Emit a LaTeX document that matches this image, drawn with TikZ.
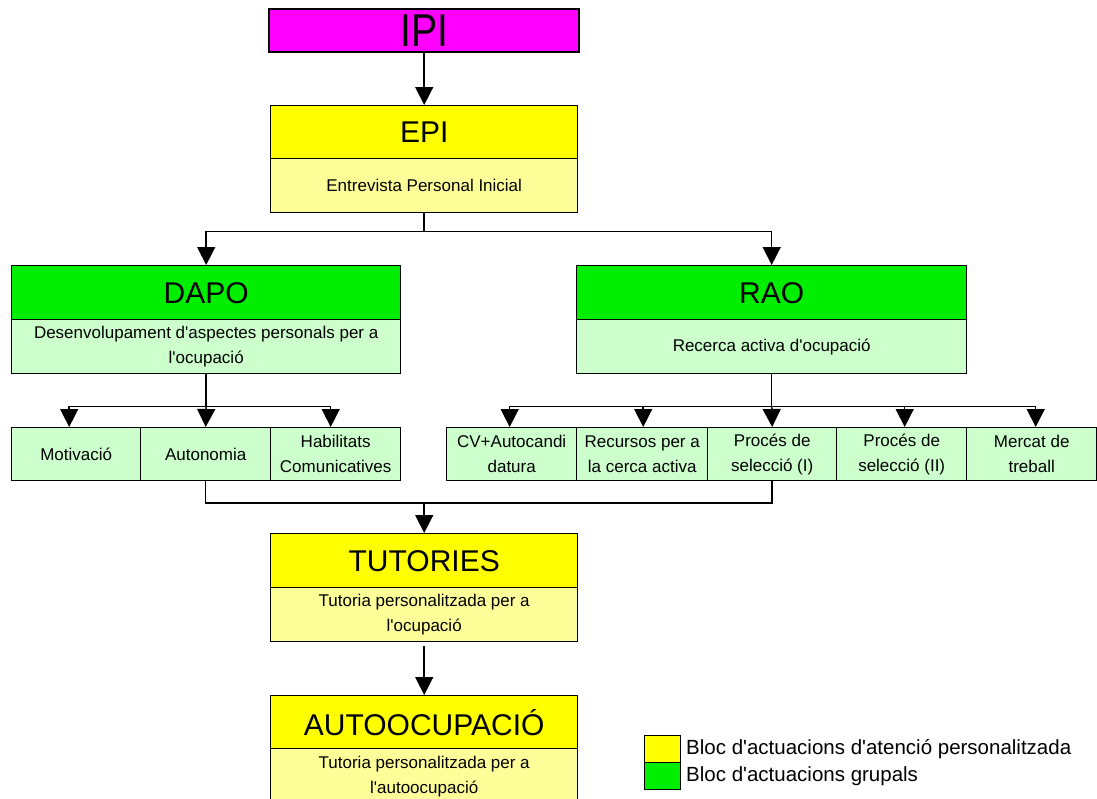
\documentclass[tikz,border=0pt]{standalone}
\usepackage{fontspec}
\setmainfont{Liberation Sans}[Ligatures=TeXOff]
\usetikzlibrary{arrows.meta,calc}
\definecolor{mag}{HTML}{FF00FF}
\definecolor{yel}{HTML}{FFFF00}
\definecolor{lyel}{HTML}{FFFF99}
\definecolor{grn}{HTML}{00EE00}
\definecolor{lgrn}{HTML}{CCFFCC}
\tikzset{
  box/.style={draw=black, line width=1.4pt, inner sep=0pt, anchor=north west, align=center},
  bigtitle/.style={box, font=\fontsize{30}{32}\selectfont},
  desc/.style={box, font=\fontsize{17}{25}\selectfont},
  sub/.style={box, font=\fontsize{17}{25}\selectfont, minimum height=53pt},
  arr/.style={line width=1.5pt, -{Triangle[width=18pt,length=18pt]}},
  ln/.style={line width=1.5pt},
  legtext/.style={anchor=west, inner sep=0pt, font=\fontsize{20.5}{22}\selectfont}
}
\begin{document}
\begin{tikzpicture}[x=1pt,y=-1pt]
\useasboundingbox[fill=white] (0,0) rectangle (1097,798);
% IPI
\node[box, line width=2.4pt, fill=mag, minimum width=310pt, minimum height=43pt,
  font=\fontsize{46}{48}\selectfont] (ipi) at (268,8) {\scalebox{0.85}[1]{IPI}};
% EPI
\node[bigtitle, fill=yel, minimum width=307pt, minimum height=53pt] (epi) at (270,105) {EPI};
\node[desc, fill=lyel, minimum width=307pt, minimum height=54pt] (epid) at (270,158) {Entrevista Personal Inicial};
% DAPO
\node[bigtitle, fill=grn, minimum width=389pt, minimum height=54pt] (dapo) at (11,265) {DAPO};
\node[desc, fill=lgrn, minimum width=389pt, minimum height=54pt] (dapod) at (11,319) {Desenvolupament d'aspectes personals per a\\l'ocupació};
% RAO
\node[bigtitle, fill=grn, minimum width=390pt, minimum height=54pt] (rao) at (576,265) {RAO};
\node[desc, fill=lgrn, minimum width=390pt, minimum height=54pt] (raod) at (576,319) {Recerca activa d'ocupació};
% DAPO subs
\node[sub, fill=lgrn, minimum width=129pt] (motiv) at (11,427) {Motivació};
\node[sub, fill=lgrn, minimum width=130pt] (auton) at (140,427) {Autonomia};
\node[sub, fill=lgrn, minimum width=130pt] (habil) at (270,427) {Habilitats\\Comunicatives};
% RAO subs
\node[sub, fill=lgrn, minimum width=130pt] (cv) at (446,427) {CV+Autocandi\\datura};
\node[sub, fill=lgrn, minimum width=131pt] (recur) at (576,427) {Recursos per a\\la cerca activa};
\node[sub, fill=lgrn, minimum width=129pt] (proca) at (707,427) {Procés de\\selecció (I)};
\node[sub, fill=lgrn, minimum width=130pt] (procb) at (836,427) {Procés de\\selecció (II)};
\node[sub, fill=lgrn, minimum width=130pt] (merc) at (966,427) {Mercat de\\treball};
% TUTORIES
\node[bigtitle, fill=yel, minimum width=307pt, minimum height=54pt] (tut) at (270,533) {TUTORIES};
\node[desc, fill=lyel, minimum width=307pt, minimum height=54pt] (tutd) at (270,587) {Tutoria personalitzada per a\\l'ocupació};
% AUTOOCUPACIO
\node[bigtitle, fill=yel, minimum width=307pt, minimum height=53pt] (auto) at (270,695) {AUTOOCUPACIÓ};
\node[desc, fill=lyel, minimum width=307pt, minimum height=56pt] (autod) at (270,748) {Tutoria personalitzada per a\\l'autoocupació};
% connectors
\draw[arr] (ipi.south) -- (epi.north);
\coordinate (j1) at ($(epid.south)+(0,18)$);
\draw[ln] (epid.south) -- (j1);
\draw[arr] (j1) -| (dapo.north);
\draw[arr] (j1) -| (rao.north);
\coordinate (j2) at ($(dapod.south)+(0,32)$);
\draw[ln] (dapod.south) -- (j2);
\draw[arr] (j2) -| ([xshift=-7pt]motiv.north);
\draw[arr] (j2) -- (auton.north);
\draw[arr] (j2) -| ([xshift=-5pt]habil.north);
\coordinate (j3) at ($(raod.south)+(0,32)$);
\draw[ln] (raod.south) -- (j3);
\draw[arr] (j3) -| ([xshift=-2pt]cv.north);
\draw[arr] (j3) -| ([xshift=1pt]recur.north);
\draw[arr] (j3) -- (proca.north);
\draw[arr] (j3) -| ([xshift=3pt]procb.north);
\draw[arr] (j3) -| ([xshift=4pt]merc.north);
\coordinate (j4) at ($(tut.north)+(0,-30)$);
\draw[ln] (auton.south) |- (j4) -| (proca.south);
\draw[arr] (j4) -- (tut.north);
\draw[arr] ([yshift=-4pt]tutd.south) -- (auto.north);
% legend
\node[draw=black, line width=1pt, fill=yel, anchor=north west, minimum width=36pt, minimum height=27pt, inner sep=0pt] (ly) at (644,735) {};
\node[draw=black, line width=1pt, fill=grn, anchor=north west, minimum width=36pt, minimum height=27pt, inner sep=0pt] (lg) at (644,762) {};
\node[legtext] (lyt) at ([xshift=5pt]ly.east) {Bloc d'actuacions d'atenció personalitzada};
\node[legtext] (lgt) at ([xshift=5pt]lg.east) {Bloc d'actuacions grupals};
\end{tikzpicture}
\end{document}
